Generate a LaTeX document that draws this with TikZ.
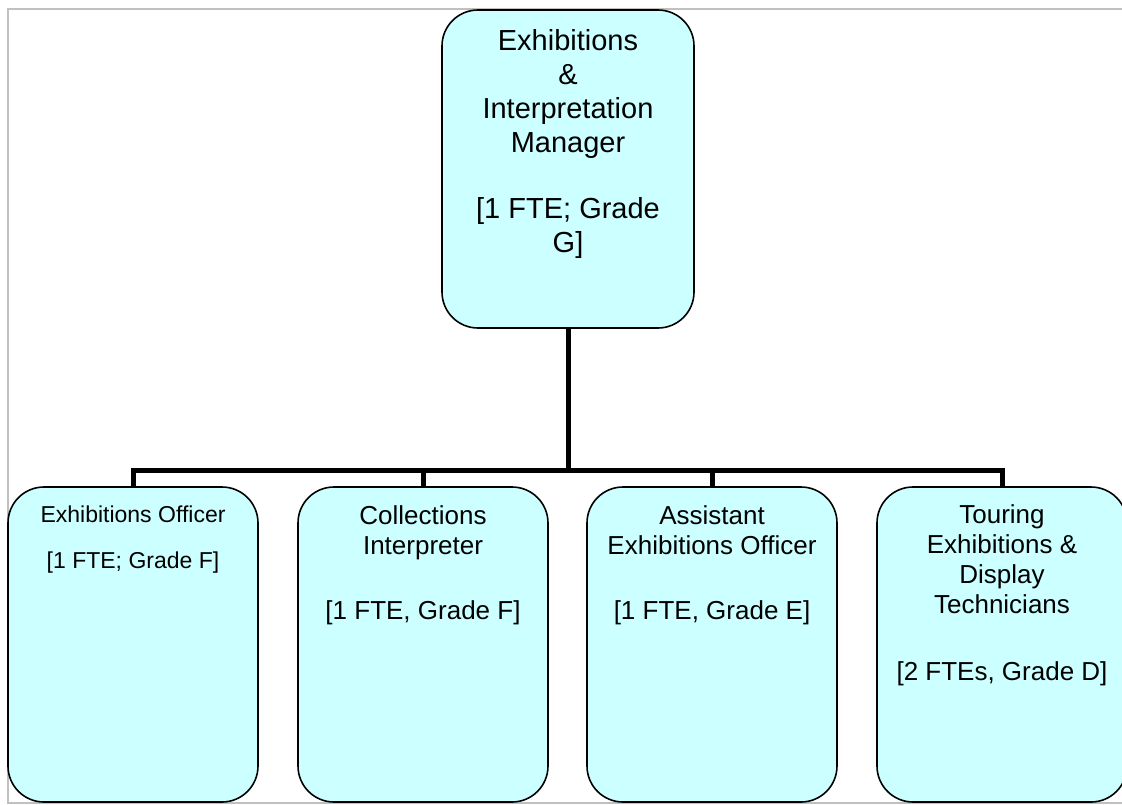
\documentclass[tikz,border=0pt]{standalone}
\usepackage{fontspec}
\setmainfont{Liberation Sans}
\definecolor{boxcyan}{HTML}{CCFFFF}
\definecolor{framegray}{HTML}{C0C0C0}
\begin{document}
\begin{tikzpicture}[x=1pt,y=-1pt,
  box/.style={draw=black, line width=1.6pt, fill=boxcyan, rounded corners=36pt, inner sep=0pt},
  topbox/.style={box, minimum width=252pt, minimum height=318pt},
  subbox/.style={box, minimum width=250pt, minimum height=315pt},
  label/.style={anchor=north, align=center, inner sep=0pt, text=black},
  toptext/.style={label, font=\fontsize{29}{34}\selectfont},
  subtext/.style={label, font=\fontsize{26}{30}\selectfont},
  smalltext/.style={label, font=\fontsize{23}{26}\selectfont},
  link/.style={draw=black, line width=5pt},
  frame/.style={draw=framegray, line width=2pt}]
\useasboundingbox (0,0) rectangle (1122,804);
\clip (0,0) rectangle (1122,804);
\draw[frame] (8,9) rectangle (1140,803);

\coordinate (bar) at (0,470);

\node[topbox] (mgr) at (568,169) {};
\node[subbox] (o1) at (133,644.5) {};
\node[subbox] (o2) at (423,644.5) {};
\node[subbox] (o3) at (712,644.5) {};
\node[subbox] (o4) at (1002,644.5) {};

\draw[link] (mgr.south) -- (mgr.south |- bar);
\draw[link] (o1.north) |- (o4.north |- bar) -- (o4.north);
\draw[link] (o2.north) -- (o2.north |- bar);
\draw[link] (o3.north) -- (o3.north |- bar);

\node[toptext] (mgrtext) at (568,29) {Exhibitions\\\&\\Interpretation\\Manager\\[32pt]{[}1 FTE; Grade\\G{]}};
\node[smalltext] (o1text) at (133,505.5) {Exhibitions Officer\\[20pt]{[}1 FTE; Grade F{]}};
\node[subtext] (o2text) at (423,505) {Collections\\Interpreter\\[35pt]{[}1 FTE, Grade F{]}};
\node[subtext] (o3text) at (712,505) {Assistant\\Exhibitions Officer\\[35pt]{[}1 FTE, Grade E{]}};
\node[subtext] (o4text) at (1002,504) {Touring\\Exhibitions \&\\Display\\Technicians\\[37pt]{[}2 FTEs, Grade D{]}};
\end{tikzpicture}
\end{document}
